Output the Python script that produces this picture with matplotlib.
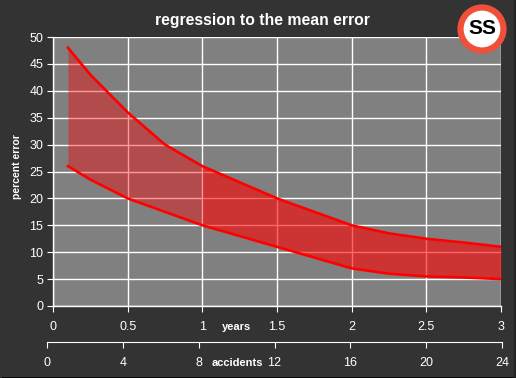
import matplotlib as mpl
mpl.use('Agg')
import matplotlib.pyplot as plt
from matplotlib.patches import Circle
import numpy as np

plt.rcParams['font.family'] = ['Liberation Sans', 'DejaVu Sans']

# data
years = [0.1, 0.25, 0.5, 0.75, 1.0, 1.25, 1.5, 1.75, 2.0, 2.25, 2.5, 2.75, 3.0]
upper = [48, 43, 36, 30, 26, 23, 20, 17.5, 15, 13.5, 12.5, 11.8, 11]
lower = [26, 23.5, 20, 17.5, 15, 13, 11, 9, 7, 6, 5.5, 5.3, 5]
year_ticks = [0, 0.5, 1, 1.5, 2, 2.5, 3]
year_labels = ['0', '0.5', '1', '1.5', '2', '2.5', '3']
accident_ticks = [0, 4, 8, 12, 16, 20, 24]
pct_ticks = list(range(0, 55, 5))

bg = '#333333'
W, H = 516, 378

fig = plt.figure(figsize=(W / 100, H / 100), dpi=100, facecolor=bg)

# main plot area
ax = fig.add_axes([53 / W, 1 - 306 / H, 448 / W, 269 / H])
ax.set_facecolor('#808080')
ax.set_xlim(0, 3)
ax.set_ylim(0, 50)
ax.set_axisbelow(True)
ax.grid(True, color='white', linewidth=1)

x = np.array(years)
up = np.array(upper)
lo = np.array(lower)
left = x <= 1.0
right = x >= 1.0
ax.fill_between(x[left], lo[left], up[left], color='#ff0000', alpha=0.4,
                linewidth=0)
ax.fill_between(x[right], lo[right], up[right], color='#ff0000', alpha=0.6,
                linewidth=0)
ax.plot(x, up, color='#ff0000', linewidth=1.9)
ax.plot(x, lo, color='#ff0000', linewidth=1.9)

ax.set_xticks(year_ticks)
ax.set_xticklabels(year_labels)
ax.set_yticks(pct_ticks)
for s in ['top', 'right']:
    ax.spines[s].set_visible(False)
for s in ['left', 'bottom']:
    ax.spines[s].set_color('white')
    ax.spines[s].set_linewidth(1)
ax.tick_params(axis='x', colors='white', direction='out', length=4,
               pad=7, labelsize=9)
ax.tick_params(axis='y', colors='white', direction='out', length=4,
               pad=3, labelsize=9)

# second axis for accidents
ax2 = fig.add_axes([47 / W, 1 - 342 / H, 455 / W, 0.001])
ax2.set_facecolor('none')
ax2.set_xlim(0, 24)
ax2.set_xticks(accident_ticks)
ax2.set_yticks([])
for s in ['top', 'right', 'left']:
    ax2.spines[s].set_visible(False)
ax2.spines['bottom'].set_color('white')
ax2.tick_params(axis='x', colors='white', direction='out', length=4,
                pad=7, labelsize=9)

fig.text(236 / W, 1 - 327 / H, 'years', color='white', fontsize=8,
         fontweight='bold', ha='center', va='center')
fig.text(237 / W, 1 - 363 / H, 'accidents', color='white', fontsize=8,
         fontweight='bold', ha='center', va='center')
fig.text(17 / W, 1 - 167 / H, 'percent error', color='white', fontsize=7.5,
         fontweight='bold', ha='center', va='center', rotation=90)
fig.text(262 / W, 1 - 20 / H, 'regression to the mean error', color='white',
         fontsize=11.3, fontweight='bold', ha='center', va='center')

# dark edge at right and bottom
fig.add_artist(plt.Line2D([3 / W, 1], [0.5 / H, 0.5 / H], color='black',
                          linewidth=1.2, transform=fig.transFigure))
fig.add_artist(plt.Line2D([1 - 1.5 / W, 1 - 1.5 / W], [0, 1], color='#222222',
                          linewidth=2.2, transform=fig.transFigure))

# logo
lax = fig.add_axes([(482 - 26) / W, 1 - (29 + 26) / H, 52 / W, 52 / H])
lax.set_xlim(-26, 26)
lax.set_ylim(-26, 26)
lax.axis('off')
lax.add_patch(Circle((0, 0), 21.5, facecolor='white', edgecolor='#f0503a',
                     linewidth=4.5))
lax.text(0, 0, 'SS', color='black', fontsize=15, fontweight='bold',
         ha='center', va='center')

fig.savefig('out.png', dpi=100, facecolor=bg)
